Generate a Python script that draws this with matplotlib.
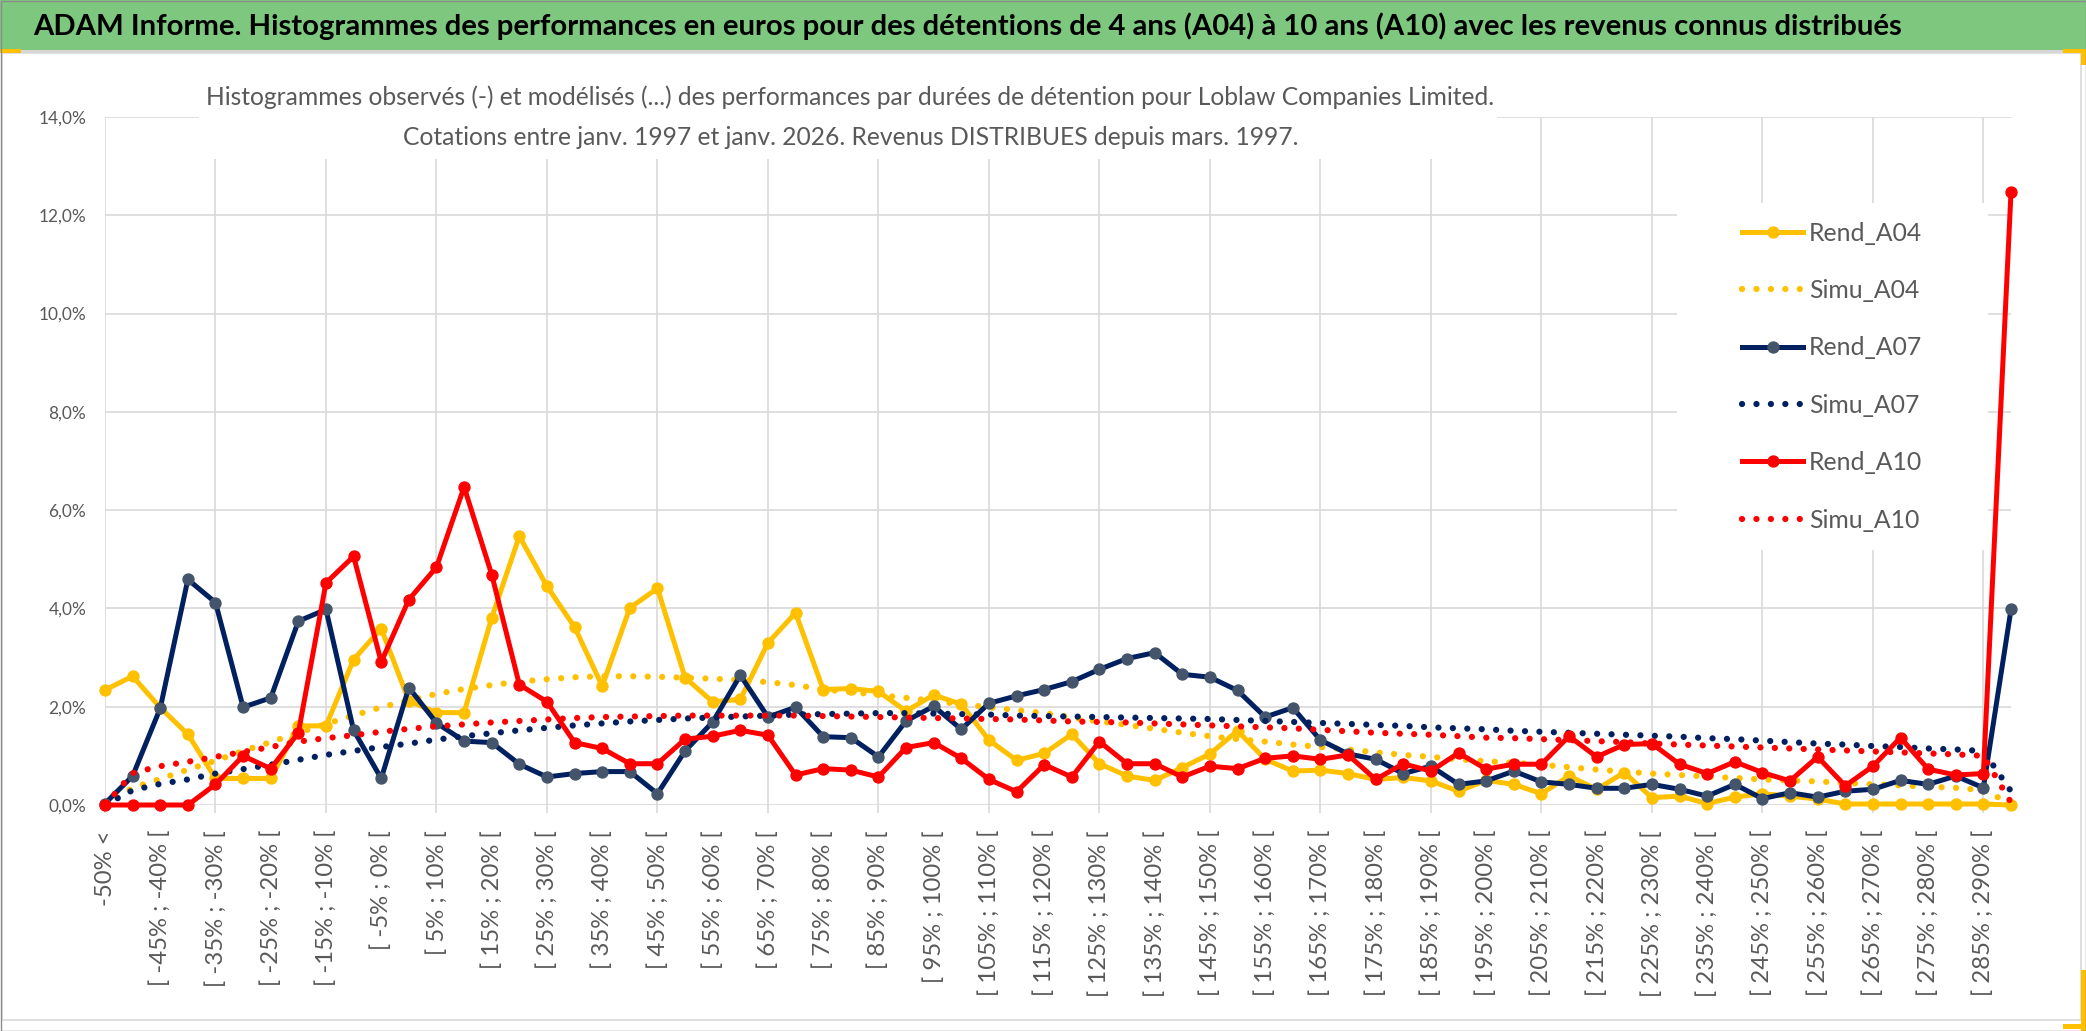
import matplotlib
matplotlib.use("Agg")
from matplotlib import pyplot as plt
from matplotlib.patches import Rectangle
import matplotlib.ticker as mtick

plt.rcParams['font.family'] = ['Lato', 'DejaVu Sans']

W, H = 2086, 1031

# categories: -50% <, then 5% bins up to 290%, then the overflow bin
bins_lo = list(range(-50, 290, 5))
categories = ["-50% <"] + ["[ %d%% ; %d%% [" % (lo, lo + 5) for lo in bins_lo] + ["290% <"]

# values in %
rend_a04 = [2.34, 2.62, 1.98, 1.44, 0.54, 0.54, 0.54, 1.61, 1.61, 2.96,
            3.59, 2.12, 1.88, 1.88, 3.81, 5.47, 4.45, 3.62, 2.42, 4.01,
            4.41, 2.59, 2.10, 2.15, 3.30, 3.91, 2.35, 2.37, 2.31, 1.91,
            2.24, 2.05, 1.32, 0.91, 1.05, 1.44, 0.84, 0.59, 0.50, 0.76,
            1.04, 1.51, 0.93, 0.69, 0.71, 0.64, 0.52, 0.56, 0.49, 0.28,
            0.50, 0.42, 0.23, 0.59, 0.32, 0.66, 0.15, 0.18, 0.03, 0.16,
            0.23, 0.18, 0.12, 0.02, 0.02, 0.02, 0.02, 0.02, 0.02, 0.00]
simu_a04 = [0.00, 0.35, 0.53, 0.72, 0.90, 1.10, 1.28, 1.47, 1.65, 1.82,
            1.99, 2.13, 2.26, 2.36, 2.44, 2.51, 2.56, 2.60, 2.62, 2.62,
            2.61, 2.59, 2.57, 2.54, 2.50, 2.44, 2.35, 2.30, 2.24, 2.18,
            2.12, 2.05, 1.99, 1.93, 1.87, 1.78, 1.70, 1.63, 1.55, 1.47,
            1.40, 1.34, 1.29, 1.23, 1.18, 1.13, 1.07, 1.02, 0.98, 0.93,
            0.89, 0.86, 0.82, 0.77, 0.72, 0.68, 0.64, 0.61, 0.58, 0.55,
            0.52, 0.50, 0.48, 0.45, 0.42, 0.40, 0.37, 0.35, 0.30, 0.03]
rend_a07 = [0.03, 0.59, 1.97, 4.59, 4.12, 1.99, 2.18, 3.74, 3.98, 1.52,
            0.54, 2.39, 1.67, 1.30, 1.27, 0.83, 0.57, 0.64, 0.68, 0.68,
            0.23, 1.10, 1.69, 2.64, 1.79, 1.99, 1.39, 1.37, 0.98, 1.71,
            2.01, 1.54, 2.07, 2.22, 2.35, 2.51, 2.76, 2.98, 3.10, 2.66,
            2.60, 2.33, 1.79, 1.98, 1.32, 1.04, 0.93, 0.64, 0.79, 0.42,
            0.49, 0.69, 0.47, 0.42, 0.34, 0.34, 0.42, 0.32, 0.18, 0.42,
            0.13, 0.25, 0.16, 0.28, 0.32, 0.50, 0.42, 0.59, 0.35, 3.98]
simu_a07 = [0.00, 0.30, 0.43, 0.52, 0.64, 0.73, 0.82, 0.92, 1.02, 1.10,
            1.18, 1.25, 1.33, 1.40, 1.46, 1.52, 1.57, 1.62, 1.66, 1.70,
            1.73, 1.76, 1.78, 1.80, 1.82, 1.84, 1.85, 1.86, 1.87, 1.87,
            1.86, 1.85, 1.84, 1.82, 1.81, 1.80, 1.79, 1.78, 1.77, 1.76,
            1.75, 1.73, 1.71, 1.69, 1.67, 1.65, 1.63, 1.61, 1.58, 1.56,
            1.54, 1.51, 1.49, 1.47, 1.45, 1.43, 1.41, 1.39, 1.36, 1.34,
            1.31, 1.28, 1.25, 1.23, 1.20, 1.18, 1.15, 1.13, 1.10, 0.28]
rend_a10 = [0.00, 0.00, 0.00, 0.00, 0.42, 1.00, 0.74, 1.47, 4.52, 5.06,
            2.91, 4.18, 4.84, 6.47, 4.69, 2.45, 2.10, 1.27, 1.15, 0.84,
            0.84, 1.34, 1.40, 1.52, 1.42, 0.61, 0.74, 0.71, 0.57, 1.17,
            1.27, 0.95, 0.52, 0.27, 0.82, 0.57, 1.29, 0.84, 0.84, 0.57,
            0.79, 0.74, 0.95, 1.00, 0.93, 1.02, 0.52, 0.84, 0.69, 1.06,
            0.73, 0.83, 0.83, 1.40, 0.98, 1.23, 1.25, 0.83, 0.64, 0.88,
            0.66, 0.49, 0.98, 0.39, 0.79, 1.37, 0.73, 0.61, 0.64, 12.47]
simu_a10 = [0.00, 0.65, 0.79, 0.88, 0.98, 1.08, 1.18, 1.29, 1.36, 1.42,
            1.49, 1.55, 1.60, 1.64, 1.68, 1.71, 1.74, 1.77, 1.79, 1.80,
            1.81, 1.82, 1.82, 1.82, 1.82, 1.82, 1.81, 1.80, 1.79, 1.78,
            1.77, 1.76, 1.75, 1.74, 1.72, 1.70, 1.69, 1.68, 1.66, 1.64,
            1.62, 1.60, 1.58, 1.56, 1.53, 1.50, 1.47, 1.45, 1.43, 1.40,
            1.37, 1.36, 1.34, 1.32, 1.30, 1.28, 1.25, 1.23, 1.21, 1.19,
            1.17, 1.15, 1.13, 1.11, 1.09, 1.07, 1.05, 1.03, 1.00, 0.05]

title = ("ADAM Informe. Histogrammes des performances en euros pour des détentions "
         "de 4 ans (A04) à 10 ans (A10) avec les revenus connus distribués")
sub1 = ("Histogrammes observés (-) et modélisés (...) des performances par durées "
        "de détention pour Loblaw Companies Limited.")
sub2 = "Cotations entre janv. 1997 et janv. 2026. Revenus DISTRIBUES depuis mars. 1997."

GOLD = "#FFC000"
NAVY = "#002060"
RED = "#FF0000"
GREY_TXT = "#595959"
GRID = "#D9D9D9"


def fx(x):
    return x / W


def fy(y):
    return 1 - y / H


fig = plt.figure(figsize=(W / 100, H / 100), dpi=100)
renderer = fig.canvas.get_renderer()


def text_px(txt, size, weight="normal"):
    probe = fig.text(0, 0, txt, fontsize=size, fontweight=weight)
    bb = probe.get_window_extent(renderer=renderer)
    probe.remove()
    return bb.width, bb.height


def fit_size(txt, target, weight="normal"):
    w, _ = text_px(txt, 20, weight)
    return 20 * target / w


def px_rect(x0, y0, x1, y1, **kw):
    r = Rectangle((fx(x0), fy(y1)), (x1 - x0) / W, (y1 - y0) / H,
                  transform=fig.transFigure, **kw)
    fig.add_artist(r)
    return r


# ---- header band
px_rect(0, 0, W, 50, facecolor="#7DC87E", edgecolor="none", zorder=1)
px_rect(0, 50, W, 53, facecolor="#D6D6D6", edgecolor="none", zorder=1)
fs_title = fit_size(title, 1871, "bold")
fig.text(fx(33), fy(26), title, fontsize=fs_title, fontweight="bold",
         color="black", ha="left", va="center", zorder=3)

# ---- chart area
ax = fig.add_axes([fx(105), fy(805), (2011 - 105) / W, (805 - 117) / H])
x = list(range(len(categories)))

ax.plot(x, rend_a04, color=GOLD, lw=3.6, marker="o", ms=7.9, mfc=GOLD, mec=GOLD,
        label="Rend_A04", clip_on=False, zorder=3)
ax.plot(x, simu_a04, color=GOLD, lw=4.5, ls=(0, (0.01, 2.3)), dash_capstyle="round",
        label="Simu_A04", clip_on=False, zorder=3)
ax.plot(x, rend_a07, color=NAVY, lw=3.6, marker="o", ms=7.9, mfc="#44546A", mec="#44546A",
        label="Rend_A07", clip_on=False, zorder=3)
ax.plot(x, simu_a07, color=NAVY, lw=4.5, ls=(0, (0.01, 2.3)), dash_capstyle="round",
        label="Simu_A07", clip_on=False, zorder=3)
ax.plot(x, rend_a10, color=RED, lw=3.6, marker="o", ms=7.9, mfc=RED, mec=RED,
        label="Rend_A10", clip_on=False, zorder=3)
ax.plot(x, simu_a10, color=RED, lw=4.5, ls=(0, (0.01, 2.3)), dash_capstyle="round",
        label="Simu_A10", clip_on=False, zorder=3)

ax.set_xlim(0, len(categories) - 1)
ax.set_ylim(0, 14)
for s in ax.spines.values():
    s.set_visible(False)
ax.set_axisbelow(True)

# y axis
ax.set_yticks(range(0, 15, 2))
ax.yaxis.set_major_formatter(mtick.FuncFormatter(lambda v, p: ("%.1f" % v).replace(".", ",") + "%"))
fs_y = fit_size("14,0%", 48)
ax.tick_params(axis="y", length=0, pad=13.5, labelsize=fs_y, labelcolor=GREY_TXT)
ax.grid(axis="y", color=GRID, lw=1.2)

# x axis: labels every 2 bins, gridlines/ticks every 4 bins
fs_x = fit_size("[ -45% ; -40% [", 157)
major = list(range(0, len(categories), 4))
minor = list(range(2, len(categories), 4))
ax.set_xticks(major, labels=[categories[i] for i in major])
ax.set_xticks(minor, labels=[categories[i] for i in minor], minor=True)
ax.tick_params(axis="x", which="major", length=5.8, width=1.2, color=GRID, pad=12.2,
               labelrotation=90, labelsize=fs_x, labelcolor=GREY_TXT)
ax.tick_params(axis="x", which="minor", length=0, pad=18,
               labelrotation=90, labelsize=fs_x, labelcolor=GREY_TXT)
ax.grid(axis="x", which="major", color=GRID, lw=1.2)

# ---- chart title (white box hides the gridlines behind it)
px_rect(199, 60, 1497, 159, facecolor="white", edgecolor="none", zorder=1)
fs_sub = fit_size(sub1, 1290)
fig.text(fx(206), fy(97), sub1, fontsize=fs_sub, color=GREY_TXT, ha="left", va="center", zorder=3)
fig.text(fx(206 + 1290 / 2), fy(137), sub2, fontsize=fs_sub, color=GREY_TXT,
         ha="center", va="center", zorder=3)

# ---- legend
px_rect(1677, 203, 1988, 550, facecolor="white", edgecolor="none", zorder=1)
fs_leg = fit_size("Rend_A04", 113)
fs_leg_px = fs_leg / 0.72
_, row_h = text_px("Rend_A04", fs_leg)
handles, labels = ax.get_legend_handles_labels()
fig.legend(handles, labels, loc="upper left",
           bbox_to_anchor=(fx(1742), fy(233 - row_h / 2)), bbox_transform=fig.transFigure,
           frameon=False, borderpad=0, borderaxespad=0,
           handlelength=61 / fs_leg_px, handletextpad=6 / fs_leg_px,
           labelspacing=(57.4 - row_h) / fs_leg_px, fontsize=fs_leg, labelcolor=GREY_TXT)

# ---- frame and corner accents
px_rect(2, 53, 2081, 1020, facecolor="none", edgecolor=GRID, lw=1.2, zorder=2)
px_rect(0, 49, 21, 53, facecolor=GOLD, edgecolor="none", zorder=2)
px_rect(2063, 49, W, 53, facecolor=GOLD, edgecolor="none", zorder=2)
px_rect(2081, 49, W, 65, facecolor=GOLD, edgecolor="none", zorder=2)
px_rect(2081, 970, W, H, facecolor=GOLD, edgecolor="none", zorder=2)
px_rect(2063, 1024, W, 1029, facecolor=GOLD, edgecolor="none", zorder=2)
px_rect(0.5, 0.5, W - 0.5, H - 0.5, facecolor="none", edgecolor="#8C8C8C", lw=1, zorder=4)

fig.savefig("out.png", dpi=100, facecolor="white")
